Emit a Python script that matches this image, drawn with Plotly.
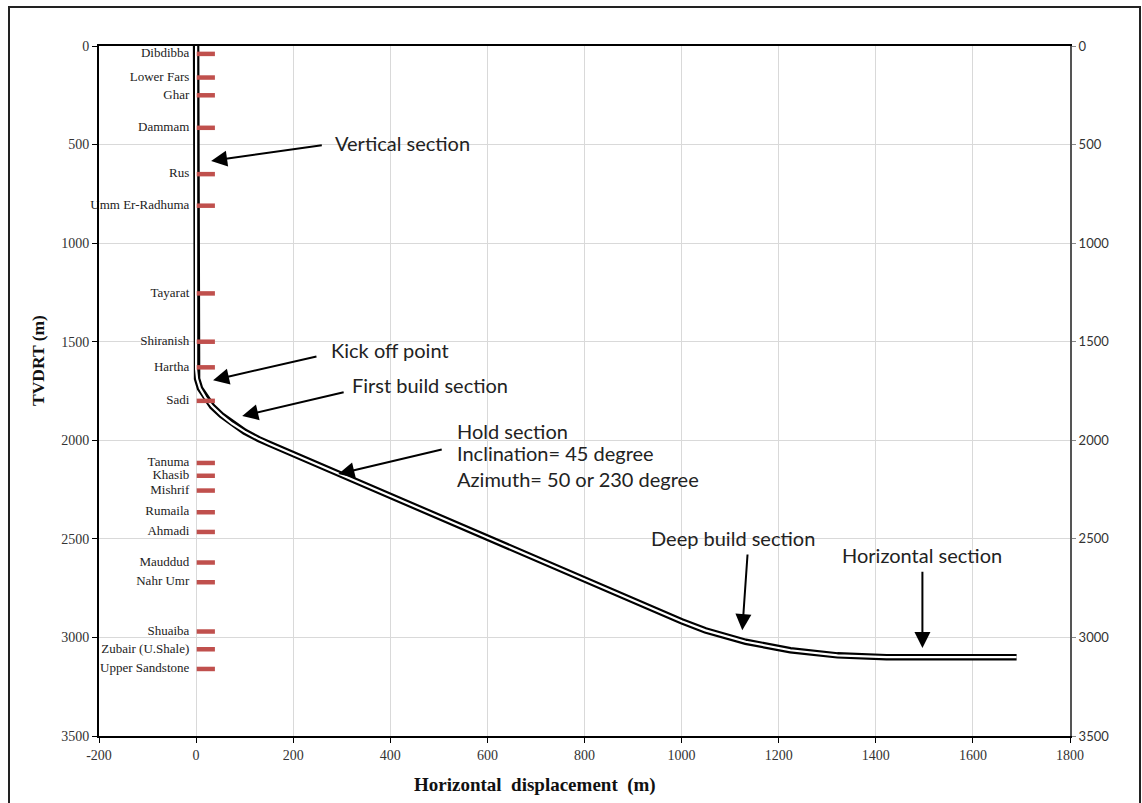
import plotly.graph_objects as go

# ---------------- data ----------------
formations = ["Dibdibba", "Lower Fars", "Ghar", "Dammam", "Rus", "Umm Er-Radhuma",
              "Tayarat", "Shiranish", "Hartha", "Sadi", "Tanuma", "Khasib", "Mishrif",
              "Rumaila", "Ahmadi", "Mauddud", "Nahr Umr", "Shuaiba", "Zubair (U.Shale)",
              "Upper Sandstone"]
formation_tops = [40, 160, 250, 415, 650, 810, 1255, 1500, 1630, 1800, 2115, 2180,
                  2255, 2365, 2465, 2620, 2720, 2970, 3060, 3160]
marker_x = 20
label_x = -14

well_x = [0, 0, 0, 2, 8, 19, 33, 52, 74, 100, 129, 150, 1000, 1049, 1132, 1224,
          1321, 1422, 1690]
well_tvd = [0, 1000, 1640, 1688, 1736, 1782, 1828, 1872, 1915, 1956, 1994, 2017,
            2918, 2964, 3022, 3065, 3091, 3100, 3100]

x_ticks = [-200, 0, 200, 400, 600, 800, 1000, 1200, 1400, 1600, 1800]
y_ticks = [0, 500, 1000, 1500, 2000, 2500, 3000, 3500]

# annotations: (text, text_x, text_y, tail_x, tail_y, tip_x, tip_y)
arrow_notes = [
    ("Vertical section", 282, 492, 262, 502, 31, 583),
    ("Kick off point", 274, 1542, 251, 1573, 35, 1695),
    ("First build section", 317, 1720, 307, 1755, 95, 1877),
    ("Hold section", 534, 1953, 509, 2045, 293, 2171),
    ("Deep build section", 932, 2496, 1136, 2572, 1125, 2963),
    ("Horizontal section", 1327, 2582, 1496, 2659, 1496, 3054),
]
extra_notes = [
    ("Inclination= 45 degree", 534, 2065),
    ("Azimuth= 50 or 230 degree", 534, 2197),
]

W, H = 1142, 803
L, R, T, B = 99, 72, 46, 67
pw, ph = W - L - R, H - T - B

fig = go.Figure()

# well path: double line (black outline, white core)
fig.add_trace(go.Scatter(x=well_x, y=well_tvd, mode="lines",
                         line=dict(color="black", width=6.5), hoverinfo="skip",
                         showlegend=False))
fig.add_trace(go.Scatter(x=well_x, y=well_tvd, mode="lines",
                         line=dict(color="white", width=2.2), hoverinfo="skip",
                         showlegend=False))

# formation markers
fig.add_trace(go.Scatter(x=[marker_x] * len(formation_tops), y=formation_tops,
                         mode="markers",
                         marker=dict(symbol="line-ew", size=13,
                                     line=dict(color="#c0504d", width=4.5)),
                         showlegend=False))
fig.add_trace(go.Scatter(x=[label_x] * len(formation_tops), y=formation_tops,
                         mode="text", text=formations, textposition="middle left",
                         cliponaxis=False,
                         textfont=dict(family="Liberation Serif", size=13, color="#222222"),
                         showlegend=False))

# invisible trace for right axis
fig.add_trace(go.Scatter(x=[0], y=[0], yaxis="y2", mode="markers",
                         marker=dict(opacity=0), showlegend=False, hoverinfo="skip"))

for (txt, tx, ty, ax, ay, hx, hy) in arrow_notes:
    fig.add_annotation(x=tx, y=ty, xref="x", yref="y", text=txt, showarrow=False,
                       xanchor="left", yanchor="middle",
                       font=dict(family="Lato", size=20, color="#222222"))
    fig.add_annotation(x=hx, y=hy, ax=ax, ay=ay, xref="x", yref="y", axref="x", ayref="y",
                       text="", showarrow=True, arrowhead=2, arrowsize=1.6,
                       arrowwidth=2, arrowcolor="black")
for (txt, tx, ty) in extra_notes:
    fig.add_annotation(x=tx, y=ty, xref="x", yref="y", text=txt, showarrow=False,
                       xanchor="left", yanchor="middle",
                       font=dict(family="Lato", size=20, color="#222222"))

# axis titles
fig.add_annotation(x=(38 - L) / pw, y=1 - (361 - T) / ph, xref="paper", yref="paper",
                   xanchor="center", yanchor="middle",
                   text="<b>TVDRT (m)</b>", textangle=-90, showarrow=False,
                   font=dict(family="Liberation Serif", size=17.5, color="#111111"))
fig.add_annotation(x=(535 - L) / pw, y=1 - (785 - T) / ph, xref="paper", yref="paper",
                   xanchor="center", yanchor="middle",
                   text="<b>Horizontal\u00a0 displacement\u00a0 (m)</b>", showarrow=False,
                   font=dict(family="Liberation Serif", size=19, color="#111111"))

# outer frame
fig.add_shape(type="rect", xref="paper", yref="paper",
              x0=(9 - L) / pw, x1=(1140 - L) / pw, y0=1 - (820 - T) / ph, y1=1 - (7 - T) / ph,
              line=dict(color="#222222", width=2), fillcolor="rgba(0,0,0,0)", layer="below")

fig.update_layout(
    width=W, height=H, margin=dict(l=L, r=R, t=T, b=B),
    paper_bgcolor="white", plot_bgcolor="white",
    xaxis=dict(range=[-200, 1800], tickvals=x_ticks, ticktext=[str(v) for v in x_ticks],
               showgrid=True, gridcolor="#d9d9d9", gridwidth=1, zeroline=False,
               showline=True, linecolor="black", linewidth=2, mirror=True,
               ticks="outside", ticklen=5, tickcolor="black",
               tickfont=dict(family="Liberation Serif", size=14, color="#333333")),
    yaxis=dict(range=[3500, 0], tickvals=y_ticks, ticktext=[str(v) for v in y_ticks],
               showgrid=True, gridcolor="#d9d9d9", gridwidth=1, zeroline=False,
               showline=True, linecolor="black", linewidth=2,
               ticks="outside", ticklen=5, tickcolor="black",
               tickfont=dict(family="Liberation Serif", size=14, color="#333333")),
    yaxis2=dict(range=[3500, 0], tickvals=y_ticks, ticktext=[str(v) for v in y_ticks],
                overlaying="y", side="right", anchor="x", showgrid=False, zeroline=False,
                showline=True, linecolor="#555555", linewidth=2,
                ticks="outside", ticklen=4, tickcolor="#888888",
                tickfont=dict(family="Lato", size=13, color="#333333")),
)

fig.write_html("out.html")
